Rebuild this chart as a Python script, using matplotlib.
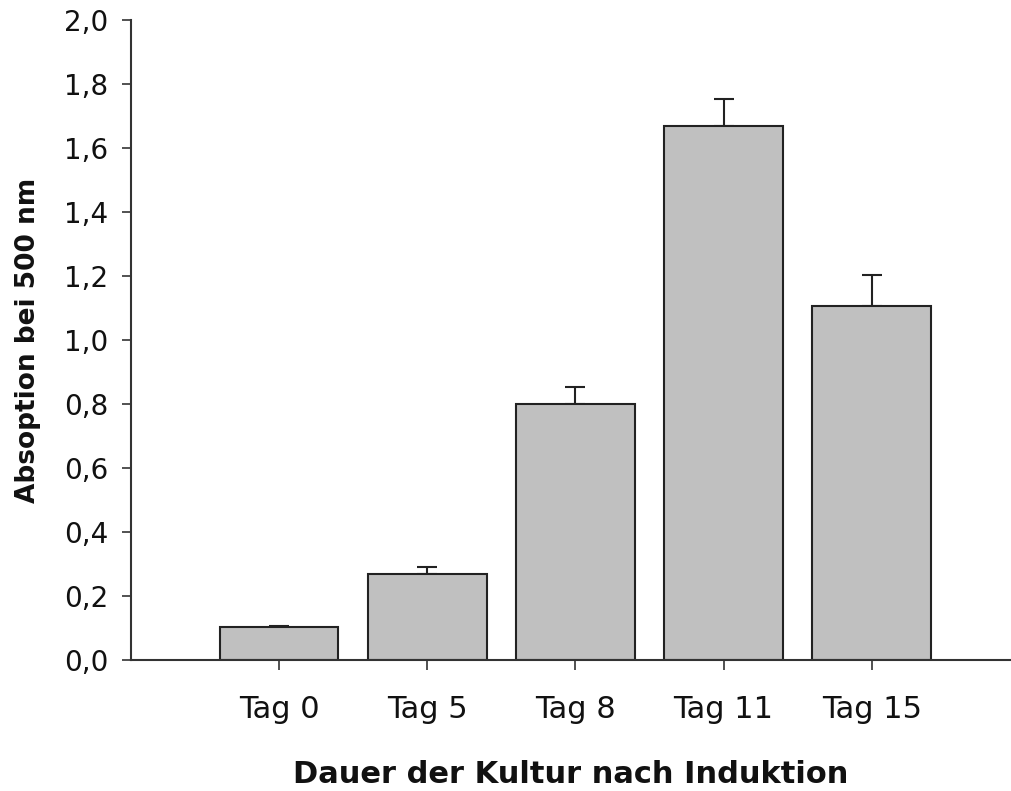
import matplotlib
matplotlib.use("Agg")
import matplotlib.pyplot as plt
from matplotlib.ticker import FuncFormatter

# Absorption at 500 nm over the culture period after induction
categories = ["Tag 0", "Tag 5", "Tag 8", "Tag 11", "Tag 15"]
absorption = [0.103, 0.268, 0.801, 1.668, 1.105]
std_error = [0.004, 0.023, 0.053, 0.084, 0.099]
y_ticks = [0.0, 0.2, 0.4, 0.6, 0.8, 1.0, 1.2, 1.4, 1.6, 1.8, 2.0]

plt.rcParams["font.family"] = ["DejaVu Sans"]

W, H = 1011, 791
fig = plt.figure(figsize=(W / 100, H / 100), dpi=100)
ax = fig.add_axes([131 / W, 131 / H, (W - 131) / W, 640 / H])

x = list(range(len(categories)))
ax.bar(x, absorption, width=0.8, color="#c0c0c0", edgecolor="#222222",
       linewidth=1.5, zorder=2)
ax.errorbar(x, absorption, yerr=[[0] * len(std_error), std_error],
            fmt="none", ecolor="#222222", elinewidth=1.5, capsize=7.2,
            capthick=1.5, zorder=1)

ax.set_xlim(-1.0, 4.94)
ax.set_ylim(0, 2.0)
ax.set_xticks(x)
ax.set_xticklabels(categories)
ax.set_yticks(y_ticks)
ax.yaxis.set_major_formatter(FuncFormatter(lambda v, _: f"{v:.1f}".replace(".", ",")))

for side in ("top", "right"):
    ax.spines[side].set_visible(False)
for side in ("left", "bottom"):
    ax.spines[side].set_color("#333333")
    ax.spines[side].set_linewidth(1.5)

ax.tick_params(axis="y", direction="out", length=6.5, width=1.2,
               color="#333333", labelsize=20, pad=10, labelcolor="#111111")
ax.tick_params(axis="x", direction="out", length=7, width=1.2,
               color="#333333", labelsize=22, pad=18, labelcolor="#111111")

ax.set_xlabel("Dauer der Kultur nach Induktion", fontsize=22,
              fontweight="bold", labelpad=26, color="#111111")
ax.set_ylabel("Absoption bei 500 nm", fontsize=19, fontweight="bold",
              labelpad=16, color="#111111")

fig.savefig("out.png", dpi=100)
